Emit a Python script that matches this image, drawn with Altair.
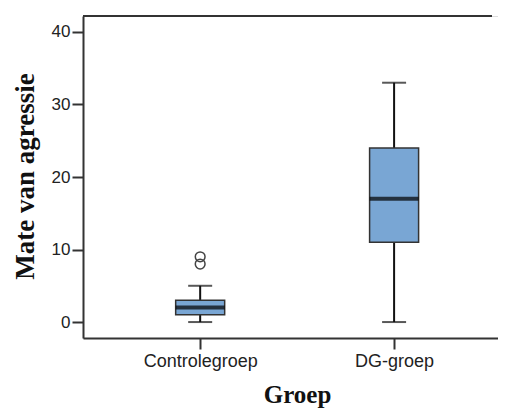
import altair as alt
import pandas as pd

groups = ["Controlegroep", "DG-groep"]
mins = [0, 0]
q1s = [1, 11]
medians = [2, 17]
q3s = [3, 24]
maxs = [5, 33]
outlier_groups = ["Controlegroep", "Controlegroep"]
outlier_values = [8, 9]

stats = pd.DataFrame({"Groep": groups, "min": mins, "q1": q1s, "median": medians, "q3": q3s, "max": maxs})
outliers = pd.DataFrame({"Groep": outlier_groups, "value": outlier_values})

AX = "#333333"
FILL = "#79a6d4"
W = 415
H = 322

xscale = alt.Scale(type="point", padding=0.57, align=0.53)
yscale = alt.Scale(domain=[-2.2, 42.2], nice=False, zero=False)

x_enc = alt.X("Groep:N", scale=xscale, sort=groups,
              axis=alt.Axis(title="Groep", labelAngle=0, tickSize=11, tickWidth=2, tickColor=AX,
                            domainColor=AX, domainWidth=2, labelFont="Liberation Sans", labelFontSize=18,
                            labelColor="#222222", labelPadding=3,
                            titleFont="Liberation Serif", titleFontWeight="bold", titleFontSize=25,
                            titleColor="#111111", titleY=64, titleBaseline="alphabetic", titleX=214))
x_plain = alt.X("Groep:N", scale=xscale, sort=groups)

y_axis = alt.Axis(title="Mate van agressie", values=[0, 10, 20, 30, 40], tickSize=11, tickWidth=2,
                  tickColor=AX, domainColor=AX, domainWidth=2, grid=False,
                  labelFont="Liberation Sans", labelFontSize=17, labelColor="#222222", labelPadding=2,
                  titleFont="Liberation Serif", titleFontWeight="bold", titleFontSize=27,
                  titleColor="#111111", titleAngle=-90, titleX=-58, titleY=160,
                  titleBaseline="middle", titleAlign="center")

base = alt.Chart(stats)

whisk_lo = base.mark_rule(color="#111111", strokeWidth=2).encode(
    x=x_enc, y=alt.Y("min:Q", scale=yscale, axis=y_axis), y2="q1:Q")
whisk_hi = base.mark_rule(color="#111111", strokeWidth=2).encode(
    x=x_plain, y=alt.Y("q3:Q", scale=yscale), y2="max:Q")
box = base.mark_bar(size=49, fill=FILL, stroke="#333333", strokeWidth=1.5).encode(
    x=x_plain, y=alt.Y("q1:Q", scale=yscale), y2="q3:Q")
med = base.mark_tick(size=49, thickness=4, color="#000000").encode(
    x=x_plain, y=alt.Y("median:Q", scale=yscale))
cap_lo = base.mark_tick(size=24, thickness=2, color="#111111").encode(
    x=x_plain, y=alt.Y("min:Q", scale=yscale))
cap_hi = base.mark_tick(size=24, thickness=2, color="#111111").encode(
    x=x_plain, y=alt.Y("max:Q", scale=yscale))
pts = alt.Chart(outliers).mark_point(shape="circle", size=95, filled=False, color="#444444",
                                     strokeWidth=1.5, opacity=1).encode(
    x=x_plain, y=alt.Y("value:Q", scale=yscale))
top = alt.Chart(stats).mark_rule(color=AX, strokeWidth=2).encode(
    x=alt.value(0), x2=alt.value(W - 6), y=alt.value(0), y2=alt.value(0))

chart = alt.layer(whisk_lo, whisk_hi, box, med, cap_lo, cap_hi, pts, top).properties(
    width=W, height=H,
    autosize=alt.AutoSizeParams(type="none"),
    padding={"left": 75, "top": 8, "right": 0, "bottom": 70},
).configure_view(stroke=None).configure(background="white")

chart.save("out.html", embed_options={"renderer": "svg", "actions": False})
